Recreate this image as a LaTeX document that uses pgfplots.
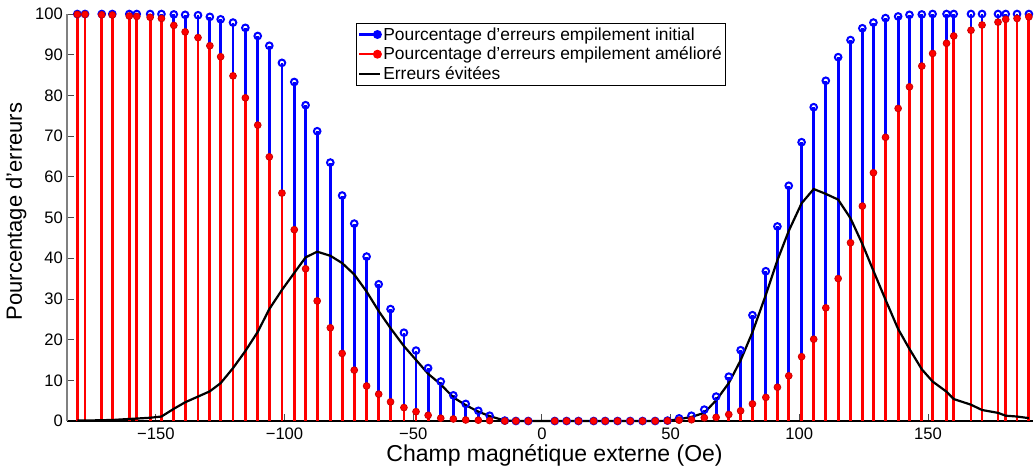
\documentclass[border=0pt]{standalone}
\usepackage{fontspec}
\setmainfont{Liberation Sans}
\usepackage{pgfplots}
\usepackage{pgfplotstable}
\pgfplotsset{compat=1.18}
\pgfplotstableread{
x blue red diff
-180.5 100 99.9 0.1
-177.5 100 99.9 0.1
-171.0 100 99.8 0.2
-166.9 100 99.75 0.25
-160.3 100 99.5 0.5
-157.4 100 99.4 0.6
-152.2 100 99.2 0.8
-147.8 100 98.9 1.1
-143.0 99.9 97.2 3.0
-138.6 99.8 95.6 4.6
-133.6 99.7 94.2 6.0
-129.0 99.3 92.2 7.3
-124.8 98.7 89.5 9.3
-120.0 97.9 84.8 13.0
-115.2 96.6 79.4 17.2
-110.4 94.6 72.7 21.9
-105.9 92.2 64.9 27.5
-101.0 88.0 56.0 32.2
-96.2 83.3 47.0 36.4
-91.8 77.6 37.4 40.2
-87.3 71.2 29.5 41.6
-82.2 63.5 22.9 40.6
-77.6 55.4 16.6 38.8
-72.9 48.5 12.5 36.0
-68.1 40.4 8.6 31.8
-63.4 33.6 6.6 27.0
-58.8 27.5 4.7 22.8
-53.6 21.7 3.3 18.4
-48.9 17.3 2.3 15.0
-44.2 13.0 1.4 11.6
-39.3 9.7 0.7 9.0
-34.4 6.3 0.5 5.8
-29.6 4.2 0.25 3.9
-24.7 2.5 0.2 2.3
-20.3 1.3 0.1 1.2
-14.4 0.1 0 0.1
-10.1 0 0 0
-5.3 0 0 0
5.0 0 0 0
9.6 0 0 0
14.2 0 0 0
20.1 0 0 0
24.6 0 0 0
29.4 0 0 0
34.3 0 0 0
39.1 0 0 0
44.0 0 0 0
48.8 0.1 0.05 0.05
53.3 0.65 0.2 0.45
58.1 1.3 0.3 1.0
63.1 2.8 0.8 2.0
67.7 6.0 0.9 5.1
72.6 10.9 1.6 9.3
77.2 17.4 2.5 14.9
81.8 26.0 4.2 21.8
87.0 36.8 5.8 31.0
91.5 47.8 8.3 39.5
95.9 57.8 11.1 46.7
100.9 68.5 15.8 53.5
105.6 77.1 20.1 57.0
110.3 83.6 27.8 55.8
115.1 89.4 35.0 54.4
119.9 93.6 43.8 49.8
124.5 96.5 52.8 43.5
128.8 97.9 61.0 36.9
133.5 99.0 69.7 29.8
138.4 99.4 76.8 22.6
142.8 99.8 82.1 17.7
147.6 99.9 87.2 12.7
151.8 100 90.3 9.7
157.2 100 92.8 7.2
160.0 100 94.6 5.4
166.7 100 96.0 4.0
171.0 100 97.3 2.7
177.2 100 98.0 2.0
180.2 100 98.7 1.3
184.6 100 98.9 1.1
189.2 100 99.3 0.7
}\datatable
\begin{document}
\begin{tikzpicture}
\path[use as bounding box] (0,0) rectangle (1036pt,469pt);
\begin{axis}[
  at={(67pt,48pt)}, anchor=south west,
  scale only axis, width=966pt, height=407pt,
  xmin=-184.5, xmax=190.8, ymin=0, ymax=100,
  clip=false,
  axis lines*=left,
  x axis line style={black, line width=1.4pt},
  y axis line style={gray, line width=1.4pt},
  tick align=inside, major tick length=7pt,
  tick style={black!70, line width=0.8pt},
  xtick={-150,-100,-50,0,50,100,150},
  xticklabels={−150,−100,−50,0,50,100,150},
  ytick={0,10,...,100},
  /pgf/number format/assume math mode=true,
  ticklabel style={font=\fontsize{16.6}{18}\selectfont},
  xticklabel style={inner sep=0pt, yshift=-7pt},
  yticklabel style={inner sep=0pt, xshift=-4pt},
  xlabel={Champ magnétique externe (Oe)},
  ylabel={Pourcentage d’erreurs},
  xlabel style={font=\fontsize{23}{26}\selectfont, at={(axis description cs:0.5047,-0.0983)}, anchor=base, inner sep=0pt},
  ylabel style={font=\fontsize{22}{26}\selectfont, at={(axis description cs:-0.0466,0.5147)}, anchor=base, inner sep=0pt},
  legend style={at={(axis description cs:0.299,0.979)}, anchor=north west,
    draw=black, line width=0.8pt, font=\fontsize{17.4}{20}\selectfont,
    inner xsep=2pt, inner ysep=3pt, row sep=2.5pt,
    nodes={inner sep=1.5pt}},
  legend cell align=left,
]
\addplot[ycomb, color=blue, line width=2.8pt, mark=o, mark size=3.3pt,
  mark options={line width=2pt, fill=white},
  legend image code/.code={\draw[blue,line width=2.4pt] (0pt,0pt)--(18pt,0pt); \fill[blue] (18pt,0pt) circle (3pt);}]
  table[x=x, y=blue] {\datatable};
\addlegendentry{Pourcentage d’erreurs empilement initial}
\addplot[ycomb, color=red, line width=2.8pt, mark=*, mark size=3.4pt,
  mark options={fill=red, draw=red!80!black, line width=0.8pt},
  legend image code/.code={\draw[red,line width=2.4pt] (0pt,0pt)--(18pt,0pt); \fill[red] (18pt,0pt) circle (3pt);}]
  table[x=x, y=red] {\datatable};
\addlegendentry{Pourcentage d’erreurs empilement amélioré}
\addplot[black, line width=2.2pt, mark=none,
  legend image code/.code={\draw[black,line width=2.4pt] (0pt,0pt)--(21pt,0pt);}]
  table[x=x, y=diff] {\datatable};
\addlegendentry{Erreurs évitées}
\end{axis}
\end{tikzpicture}
\end{document}
